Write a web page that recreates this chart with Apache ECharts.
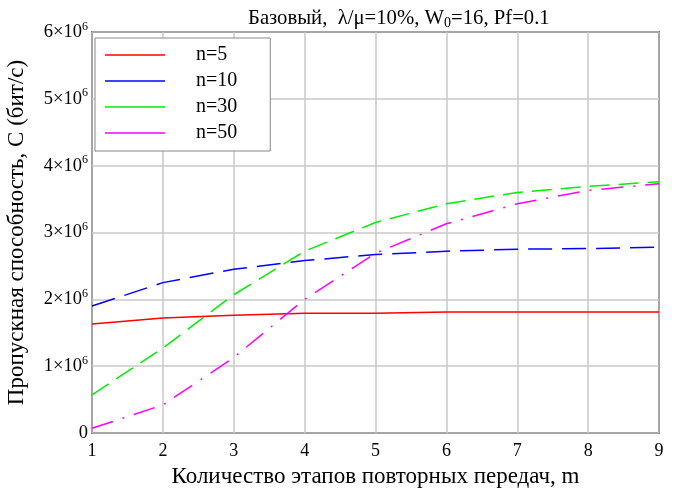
<!DOCTYPE html>
<html>
<head>
<meta charset="utf-8">
<script src="https://cdn.jsdelivr.net/npm/echarts@6/dist/echarts.min.js"></script>
<style>
  html, body { margin: 0; padding: 0; background: #fff; }
  #chart { width: 683px; height: 492px; }
</style>
</head>
<body>
<div id="chart"></div>
<script>
// количество этапов m
const stages = [1, 2, 3, 4, 5, 6, 7, 8, 9];
const n5 = [1.63e6, 1.72e6, 1.76e6, 1.79e6, 1.79e6, 1.81e6, 1.81e6, 1.81e6, 1.81e6];
const n10 = [1.90e6, 2.25e6, 2.45e6, 2.58e6, 2.67e6, 2.72e6, 2.75e6, 2.76e6, 2.78e6];
const n30 = [0.57e6, 1.27e6, 2.07e6, 2.72e6, 3.15e6, 3.43e6, 3.60e6, 3.69e6, 3.76e6];
const n50 = [0.07e6, 0.42e6, 1.13e6, 2.00e6, 2.69e6, 3.13e6, 3.43e6, 3.63e6, 3.73e6];
const seriesNames = ["n=5", "n=10", "n=30", "n=50"];

const font = "Liberation Serif";
const pairs = (ys) => stages.map((x, i) => [x, ys[i]]);

let chart = echarts.init(document.getElementById("chart"));

let option = {
  backgroundColor: "#fff",
  textStyle: { fontFamily: font, color: "#000" },
  title: {
    text: "{a|Базовый,  λ/μ=10%, W}{sub|0}{a|=16, Pf=0.1}",
    left: 243,
    top: 2,
    textStyle: {
      rich: {
        a: { fontFamily: font, fontSize: 20.7, fontWeight: "normal", color: "#000" },
        sub: { fontFamily: font, fontSize: 14, fontWeight: "normal", color: "#000", padding: [9, 0, 0, 0] },
      },
    },
  },
  legend: {
    orient: "vertical",
    left: 95,
    top: 38,
    padding: [7, 33, 8, 10],
    itemGap: 6,
    icon: "rect",
    itemWidth: 60,
    itemHeight: 1.5,
    borderColor: "#888",
    borderWidth: 1,
    backgroundColor: "#fff",
    textStyle: { fontFamily: font, fontSize: 20, color: "#000", padding: [0, 0, 0, 26] },
    data: seriesNames,
  },
  grid: {
    left: 92,
    right: 24,
    top: 32,
    bottom: 59,
    outerBoundsMode: "none",
    show: true,
    borderColor: "#000",
    borderWidth: 1.5,
  },
  xAxis: {
    type: "value",
    min: 1,
    max: 9,
    interval: 1,
    name: "Количество этапов повторных передач, m",
    nameLocation: "middle",
    nameGap: 32,
    nameTextStyle: { fontFamily: font, fontSize: 23, color: "#000" },
    axisLine: { show: false },
    axisTick: { show: false },
    axisLabel: { fontFamily: font, fontSize: 18, color: "#000", margin: 9 },
    splitLine: { lineStyle: { color: "#c8c8c8", width: 1.5 } },
  },
  yAxis: {
    type: "value",
    min: 0,
    max: 6e6,
    interval: 1e6,
    name: "Пропускная способность, C (бит/с)",
    nameLocation: "middle",
    nameGap: 64,
    nameTextStyle: { fontFamily: font, fontSize: 23, color: "#000" },
    axisLine: { show: false },
    axisTick: { show: false },
    axisLabel: {
      margin: 4,
      formatter: function (v) {
        if (v === 0) return "{b|0}";
        return "{b|" + v / 1e6 + "×10}{s|6}";
      },
      rich: {
        b: { fontFamily: font, fontSize: 18.5, color: "#000" },
        s: { fontFamily: font, fontSize: 12, color: "#000", padding: [0, 0, 11, 0] },
      },
    },
    splitLine: { lineStyle: { color: "#c8c8c8", width: 1.5 } },
  },
  series: [
    {
      name: "n=5", type: "line", symbol: "none", data: pairs(n5),
      itemStyle: { color: "#ff0000" },
      lineStyle: { color: "#ff0000", width: 1.5 },
    },
    {
      name: "n=10", type: "line", symbol: "none", data: pairs(n10),
      itemStyle: { color: "#0000ff" },
      lineStyle: { color: "#0000ff", width: 1.5, type: [24, 10] },
    },
    {
      name: "n=30", type: "line", symbol: "none", data: pairs(n30),
      itemStyle: { color: "#00ee00" },
      lineStyle: { color: "#00ee00", width: 1.5, type: [20, 9] },
    },
    {
      name: "n=50", type: "line", symbol: "none", data: pairs(n50),
      itemStyle: { color: "#ff00ff" },
      lineStyle: { color: "#ff00ff", width: 1.5, type: [22, 10, 2, 10] },
    },
  ],
};

option && chart.setOption(option);
</script>
</body>
</html>
